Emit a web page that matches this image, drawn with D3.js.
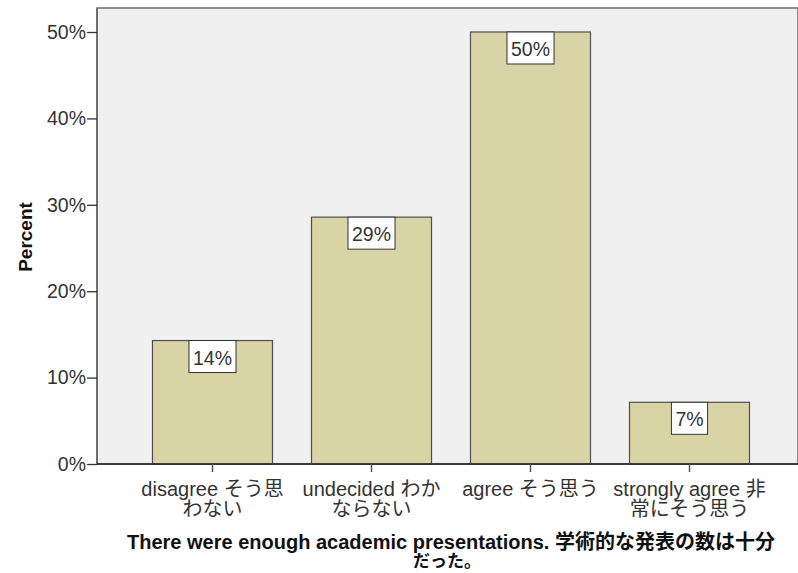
<!DOCTYPE html>
<html><head><meta charset="utf-8">
<script src="https://cdn.jsdelivr.net/npm/d3@7"></script>
<style>body{margin:0;background:#fff}svg{display:block}</style>
</head><body>
<svg id="c" width="798" height="573"></svg>
<script>
const categories = ["disagree そう思\nわない", "undecided わか\nならない", "agree そう思う", "strongly agree 非\n常にそう思う"];
const values = [14.29, 28.57, 50.0, 7.14];
const valueLabels = ["14%", "29%", "50%", "7%"];
const yTicks = [0, 10, 20, 30, 40, 50];
const yTitle = "Percent";
const xTitle = ["There were enough academic presentations. 学術的な発表の数は十分", "だった。"];

(function () {
const svg = d3.select("#c");
const FONT = "'Liberation Sans', Arial, 'Noto Sans CJK JP', sans-serif";
const pl = 97, pr = 805, pt = 8, pb = 464;

const x = d3.scaleBand().domain(categories).range([pl, pr]).paddingInner(0.2453).paddingOuter(0.349);
const y = d3.scaleLinear().domain([0, 50]).range([pb, 32]);

svg.append("rect").attr("x", pl).attr("y", pt).attr("width", 798 - pl).attr("height", pb - pt)
  .attr("fill", "#f0f0f0").attr("stroke", "#6e6e6e").attr("stroke-width", 1.5);

svg.selectAll("rect.bar").data(values).join("rect").attr("class", "bar")
  .attr("x", (d, i) => x(categories[i])).attr("width", x.bandwidth())
  .attr("y", d => y(d)).attr("height", d => pb - y(d))
  .attr("fill", "#d9d4a6").attr("stroke", "#4f4f4f").attr("stroke-width", 1.2);

// y axis
const yAxis = d3.axisLeft(y).tickValues(yTicks).tickFormat(d => d + "%").tickSize(10).tickPadding(1);
const gy = svg.append("g").attr("transform", `translate(${pl},0)`).call(yAxis);
gy.select(".domain").attr("stroke", "#6e6e6e").attr("stroke-width", 2).attr("d", `M0,${pt}V${pb}`);
gy.selectAll(".tick line").attr("stroke", "#333").attr("stroke-width", 1.3);
gy.selectAll(".tick text").attr("font-family", FONT).attr("font-size", 19.5).attr("fill", "#333");

// x axis
const xAxis = d3.axisBottom(x).tickSize(8).tickFormat("");
const gx = svg.append("g").attr("transform", `translate(0,${pb})`).call(xAxis);
gx.select(".domain").attr("stroke", "#222").attr("stroke-width", 1.5).attr("d", `M${pl},0H798`);
gx.selectAll(".tick line").attr("stroke", "#555").attr("stroke-width", 1.5);
gx.selectAll(".tick").each(function(d) {
  const lines = d.split("\n");
  const t = d3.select(this).append("text").attr("text-anchor", "middle").attr("font-family", FONT)
    .attr("font-size", 20).attr("fill", "#333");
  lines.forEach((ln, i) => t.append("tspan").attr("x", 0).attr("y", 32 + i * 20).text(ln));
});

// value labels
values.forEach((v, i) => {
  const cx = x(categories[i]) + x.bandwidth() / 2;
  const g = svg.append("g");
  const txt = g.append("text").attr("x", cx).attr("y", y(v) + 24).attr("text-anchor", "middle")
    .attr("font-family", FONT).attr("font-size", 19.5).attr("fill", "#333").text(valueLabels[i]);
  const w = txt.node().getComputedTextLength() + 8;
  g.insert("rect", "text").attr("x", cx - w / 2).attr("y", y(v)).attr("width", w).attr("height", 32)
    .attr("fill", "#fff").attr("stroke", "#333").attr("stroke-width", 1);
});

// titles
svg.append("text").attr("transform", `translate(32,${(pt + pb) / 2 + 1}) rotate(-90)`).attr("text-anchor", "middle")
  .attr("font-family", FONT).attr("font-weight", "bold").attr("font-size", 19).attr("fill", "#111").text(yTitle);
const xt = svg.append("text").attr("text-anchor", "middle").attr("font-family", FONT)
  .attr("font-weight", "bold").attr("font-size", 20).attr("fill", "#111");
xt.append("tspan").attr("x", 451).attr("y", 549).text(xTitle[0]);
xt.append("tspan").attr("x", 447).attr("y", 567).attr("font-size", 17).text(xTitle[1]);
})();
</script>
</body></html>
